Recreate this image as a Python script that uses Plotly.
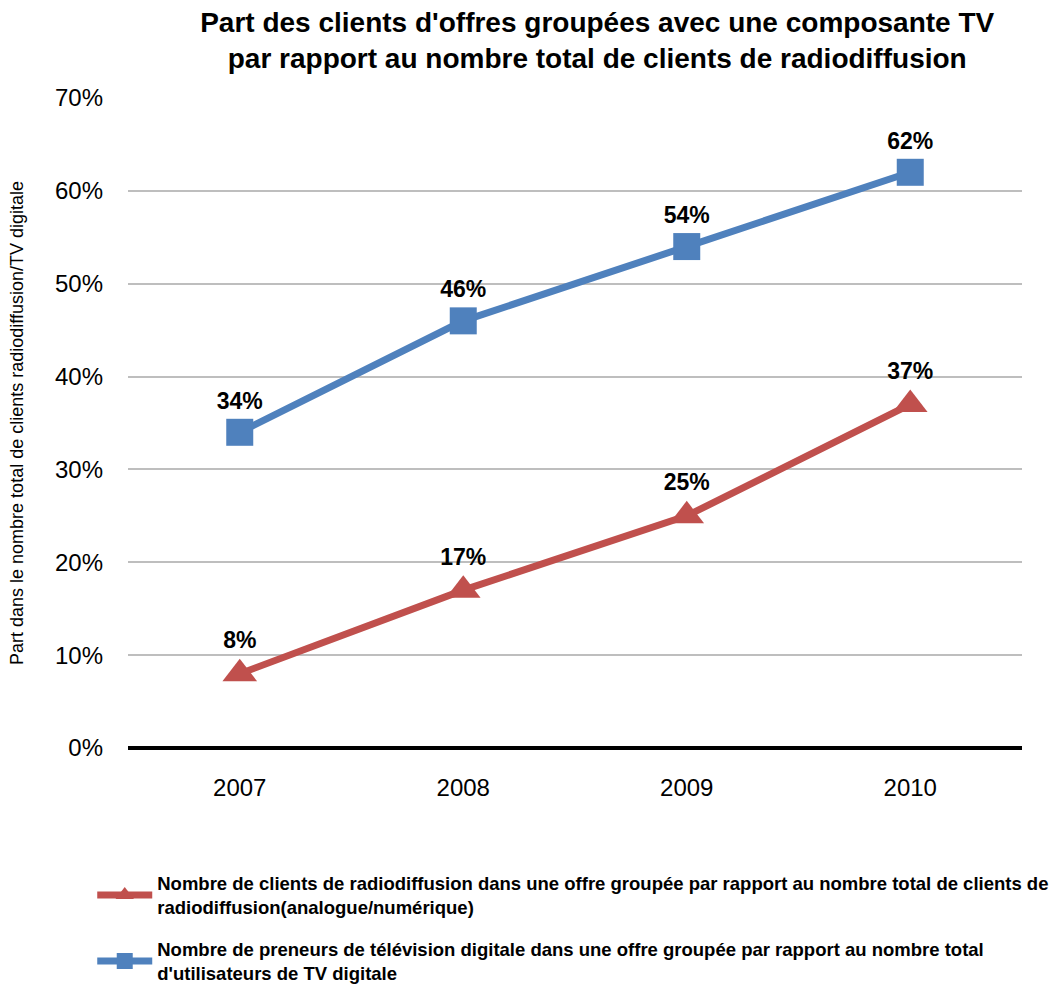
import plotly.graph_objects as go

years = ["2007", "2008", "2009", "2010"]
radio_share = [0.08, 0.17, 0.25, 0.37]
tv_share = [0.34, 0.46, 0.54, 0.62]
y_ticks = [0, 0.1, 0.2, 0.3, 0.4, 0.5, 0.6, 0.7]

radio_name = ("<b>Nombre de clients de radiodiffusion dans une offre groupée par rapport au nombre total de clients de"
              "<br>radiodiffusion(analogue/numérique)</b>")
tv_name = ("<b>Nombre de preneurs de télévision digitale dans une offre groupée par rapport au nombre total"
           "<br>d'utilisateurs de TV digitale</b>")

FONT = "Liberation Sans, Arial, sans-serif"
RED = "#C0504D"
BLUE = "#4F81BD"

fig = go.Figure()
fig.add_trace(go.Scatter(
    x=years, y=radio_share, name=radio_name, legendgroup="radio",
    mode="lines+markers+text",
    line=dict(color=RED, width=7),
    marker=dict(symbol="triangle-up", size=30, color=RED),
    texttemplate="<b>%{y:.0%}</b>", textposition="top center",
    textfont=dict(size=23, color="black", family=FONT),
    cliponaxis=False,
))
fig.add_trace(go.Scatter(
    x=years, y=tv_share, name=tv_name, legendgroup="tv",
    mode="lines+markers+text",
    line=dict(color=BLUE, width=7),
    marker=dict(symbol="square", size=27, color=BLUE),
    texttemplate="<b>%{y:.0%}</b>", textposition="top center",
    textfont=dict(size=23, color="black", family=FONT),
    cliponaxis=False,
))

fig.update_layout(
    width=1057, height=985,
    margin=dict(l=128, r=35, t=98, b=237, autoexpand=False),
    paper_bgcolor="white", plot_bgcolor="white",
    font=dict(family=FONT, color="black"),
    title=dict(
        text="<b>Part des clients d'offres groupées avec une composante TV<br>par rapport au nombre total de clients de radiodiffusion</b>",
        x=0.565, xanchor="center", yref="container", y=0.968, yanchor="middle",
        font=dict(size=28, family=FONT, color="black"),
    ),
    xaxis=dict(
        type="category", range=[-0.5, 3.5], automargin=False,
        showgrid=False, zeroline=False, showline=False,
        ticks="", tickfont=dict(size=24), ticklabelstandoff=23,
    ),
    yaxis=dict(
        range=[0, 0.7], tickvals=y_ticks, tickformat=".0%", automargin=False,
        showgrid=True, gridcolor="#BEBEBE", gridwidth=2,
        zeroline=True, zerolinecolor="black", zerolinewidth=4,
        showline=False, ticks="", tickfont=dict(size=24),
        ticklabelstandoff=24,
        title=dict(text="Part dans le nombre total de clients radiodiffusion/TV digitale",
                   font=dict(size=18), standoff=26),
    ),
    legend=dict(
        orientation="v", x=-0.04, xanchor="left", y=-0.179, yanchor="top",
        font=dict(size=18.5, family=FONT, color="black"),
        traceorder="grouped", tracegroupgap=15, itemwidth=55,
        bgcolor="rgba(0,0,0,0)",
    ),
    showlegend=True,
)

fig.write_html("out.html")
